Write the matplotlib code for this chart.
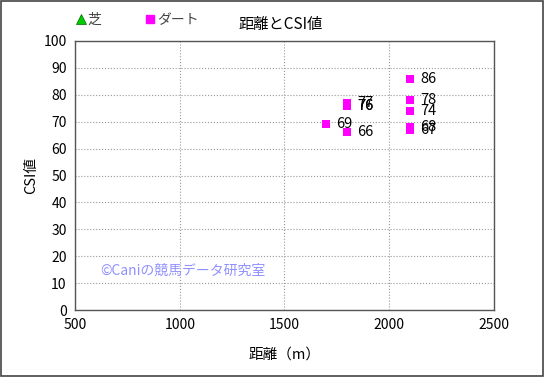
import matplotlib
matplotlib.use("Agg")
import matplotlib.pyplot as plt
from matplotlib.lines import Line2D

plt.rcParams['font.family'] = ['Noto Sans CJK JP', 'DejaVu Sans']

# ダート races: distance (m) and CSI value
dirt_dist = [2100, 2100, 2100, 2100, 2100, 1800, 1800, 1800, 1700, 1800]
dirt_csi = [86, 78, 74, 68, 67, 77, 76, 76, 69, 66]
# 芝 races: none in this chart
turf_dist = []
turf_csi = []

fig = plt.figure(figsize=(5.45, 3.77), dpi=100)
ax = fig.add_axes([75 / 545, 1 - 310 / 377, 419 / 545, 269 / 377])

ax.scatter(turf_dist, turf_csi, marker='^', s=30, color='#00cc00', edgecolors='#008000', linewidths=0.5)
ax.scatter(dirt_dist, dirt_csi, marker='s', s=28, color='#ff00ff', linewidths=0, zorder=3)
for x, y in zip(dirt_dist, dirt_csi):
    ax.annotate(str(y), (x, y), xytext=(7, 0), textcoords='offset points',
                va='center', ha='left', fontsize=10.5, color='black')

ax.set_xlim(500, 2500)
ax.set_ylim(0, 100)
ax.set_xticks(range(500, 2501, 500))
ax.set_yticks(range(0, 101, 10))
ax.grid(True, linestyle=':', color='#999999', linewidth=0.8)
ax.tick_params(length=0, labelsize=10, pad=6)
for s in ax.spines.values():
    s.set_color('#555555')
    s.set_linewidth(1.0)

ax.set_xlabel('距離（m）', fontsize=10.5, labelpad=11)
ax.set_ylabel('CSI値', fontsize=10.5, labelpad=4)
fig.text(0.515, 1 - 24 / 377, '距離とCSI値', ha='center', va='center', fontsize=11)

ax.text(0.06, 0.145, '©Caniの競馬データ研究室', transform=ax.transAxes, fontsize=10,
        color='#9090ff', va='center', ha='left')

# legend at top
handles = [Line2D([], [], marker='^', linestyle='', color='#00cc00', markeredgecolor='#006600',
                  markeredgewidth=0.5, markersize=7),
           Line2D([], [], marker='s', linestyle='', color='#ff00ff', markersize=6)]
fig.legend(handles, ['芝', 'ダート'], loc='center', bbox_to_anchor=(0.25, 1 - 20 / 377), ncol=2,
           frameon=False, fontsize=10, handletextpad=0.0, columnspacing=3.0, handlelength=1.0,
           labelcolor='#444444')

border = plt.Rectangle((0.002, 0.003), 0.995, 0.994, transform=fig.transFigure,
                       fill=False, edgecolor='#444444', linewidth=1.2)
fig.patches.append(border)

fig.savefig('out.png', dpi=100)
